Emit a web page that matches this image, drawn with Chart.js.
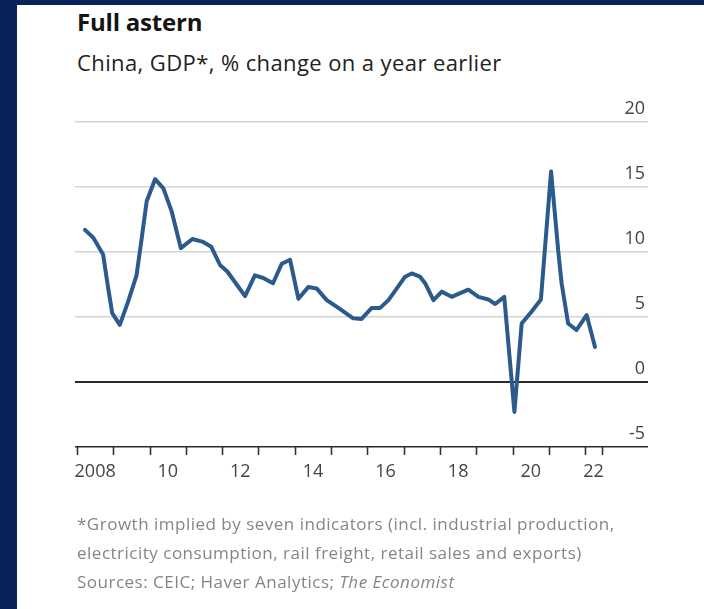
<!DOCTYPE html>
<html>
<head>
<meta charset="utf-8">
<script src="https://cdn.jsdelivr.net/npm/chart.js@4.4.1/dist/chart.umd.min.js"></script>
<style>
html,body{margin:0;padding:0;}
body{width:704px;height:609px;background:#062259;position:relative;overflow:hidden;font-family:'Open Sans',sans-serif;}
#panel{position:absolute;left:17px;top:5px;right:0;bottom:0;background:#ffffff;}
#title{position:absolute;left:77px;top:7px;font-weight:700;font-size:24px;line-height:30px;color:#141414;white-space:nowrap;letter-spacing:-0.2px;}
#subtitle{position:absolute;left:77px;top:48px;font-size:22px;line-height:28px;color:#222;white-space:nowrap;letter-spacing:0.4px;}
#notes{position:absolute;left:77px;top:509px;font-size:17px;line-height:29px;color:#858585;white-space:nowrap;letter-spacing:0.5px;}
#chartbox{position:absolute;left:0;top:0;width:704px;height:609px;}
</style>
</head>
<body>
<div id="panel"></div>
<div id="title">Full astern</div>
<div id="subtitle">China, GDP*, % change on a year earlier</div>
<div id="chartbox"><canvas id="c" width="704" height="609"></canvas></div>
<div id="notes">*Growth implied by seven indicators (incl. industrial production,<br>electricity consumption, rail freight, retail sales and exports)<br>Sources: CEIC; Haver Analytics; <i>The Economist</i></div>
<script>
// Data (decimal year, % change on a year earlier)
const dates = [2008.22, 2008.45, 2008.72, 2008.86, 2008.97, 2009.18, 2009.41, 2009.64, 2009.78, 2009.92,
  2010.15, 2010.38, 2010.61, 2010.86, 2011.18, 2011.45, 2011.70, 2011.94, 2012.14, 2012.40,
  2012.63, 2012.90, 2013.13, 2013.40, 2013.64, 2013.87, 2014.10, 2014.37, 2014.60, 2014.88,
  2015.20, 2015.61, 2015.84, 2016.12, 2016.35, 2016.58, 2016.81, 2017.04, 2017.22, 2017.45,
  2017.59, 2017.82, 2018.05, 2018.32, 2018.78, 2019.06, 2019.33, 2019.52, 2019.77, 2020.05,
  2020.25, 2020.52, 2020.78, 2021.06, 2021.26, 2021.35, 2021.53, 2021.76, 2022.04, 2022.27];
const gdp = [11.7, 11.1, 9.8, 7.2, 5.3, 4.4, 6.2, 8.2, 11.0, 13.9,
  15.6, 14.9, 13.1, 10.3, 11.0, 10.8, 10.4, 9.0, 8.5, 7.5,
  6.6, 8.2, 8.0, 7.6, 9.1, 9.4, 6.4, 7.3, 7.2, 6.3,
  5.7, 4.9, 4.85, 5.7, 5.7, 6.3, 7.2, 8.1, 8.35, 8.1,
  7.6, 6.3, 6.95, 6.55, 7.1, 6.55, 6.35, 6.0, 6.55, -2.3,
  4.5, 5.4, 6.35, 16.2, 10.0, 7.6, 4.5, 4.0, 5.15, 2.7];
const tickYears = [2008, 2009, 2010, 2011, 2012, 2013, 2014, 2015, 2016, 2017, 2018, 2019, 2020, 2021, 2022, 2022.45];
const yearLabelPos = [2008.5, 2010.5, 2012.5, 2014.5, 2016.5, 2018.5, 2020.5, 2022.23];
const yearLabels = ['2008', '10', '12', '14', '16', '18', '20', '22'];
const yTicks = [-5, 0, 5, 10, 15, 20];

const X_MIN = 2007.945, X_MAX = 2023.73;
const points = dates.map((d, i) => ({x: d, y: gdp[i]}));
const FONT = "'Open Sans', sans-serif";

// Year tick marks below the axis, positioned by the x scale
const yearTickMarks = {
  id: 'yearTickMarks',
  afterDraw(chart) {
    const xs = chart.scales.x;
    const ctx = chart.ctx;
    const yBase = chart.chartArea.bottom;
    ctx.save();
    ctx.strokeStyle = '#333';
    ctx.lineWidth = 1.6;
    ctx.beginPath();
    tickYears.forEach(v => {
      const px = Math.round(xs.getPixelForValue(v)) + 0.5;
      ctx.moveTo(px, yBase);
      ctx.lineTo(px, yBase + 8);
    });
    ctx.stroke();
    ctx.restore();
  }
};

new Chart(document.getElementById('c'), {
  type: 'line',
  data: {
    datasets: [{
      data: points,
      borderColor: '#2a5b8c',
      borderWidth: 4,
      pointRadius: 0,
      tension: 0,
      borderJoinStyle: 'round',
      borderCapStyle: 'round',
      fill: false
    }]
  },
  plugins: [yearTickMarks],
  options: {
    responsive: false,
    animation: false,
    devicePixelRatio: 1,
    layout: {padding: {left: 75, right: 56, top: 122, bottom: 112}},
    plugins: {legend: {display: false}, tooltip: {enabled: false}, title: {display: false}},
    scales: {
      x: {
        type: 'linear', position: 'bottom', min: X_MIN, max: X_MAX, weight: 0,
        afterFit: s => { s.height = 10; },
        afterBuildTicks: s => { s.ticks = tickYears.map(v => ({value: v})); },
        grid: {display: false},
        border: {display: false},
        ticks: {display: false}
      },
      xl: {
        type: 'linear', position: 'bottom', min: X_MIN, max: X_MAX, weight: 1,
        afterFit: s => { s.height = 40; },
        afterBuildTicks: s => { s.ticks = yearLabelPos.map(v => ({value: v})); },
        grid: {display: false, drawTicks: false},
        border: {display: false},
        ticks: {
          autoSkip: false, maxRotation: 0, minRotation: 0, padding: 4,
          font: {family: FONT, size: 18}, color: '#444',
          callback: (v, i) => yearLabels[i]
        }
      },
      y: {
        position: 'right', min: -5, max: 20,
        afterFit: s => { s.width = 0; },
        afterBuildTicks: s => { s.ticks = yTicks.map(v => ({value: v})); },
        grid: {
          drawTicks: false,
          color: ctx => (ctx.tick && (ctx.tick.value === 0 || ctx.tick.value === -5)) ? '#2b2b2b' : '#d4d4d4',
          lineWidth: ctx => (ctx.tick && ctx.tick.value === 0) ? 2 : 1.5
        },
        border: {display: false},
        ticks: {
          mirror: true, padding: -3, labelOffset: -13,
          font: {family: FONT, size: 18}, color: '#444',
          callback: v => String(v)
        }
      }
    }
  }
});
</script>
</body>
</html>
